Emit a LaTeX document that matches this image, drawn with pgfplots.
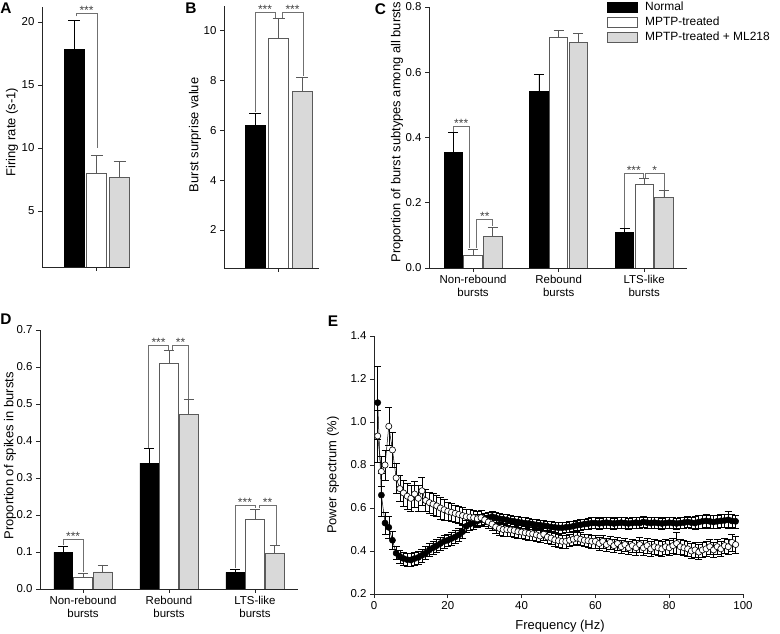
\documentclass[border=0pt]{standalone}
\usepackage{fontspec}
\setmainfont{Liberation Sans}
\usepackage{pgfplots}
\usepackage{pgfplotstable}
\pgfplotsset{compat=1.18}
\definecolor{barfill}{HTML}{D9D9D9}
\definecolor{edge}{HTML}{5A5A5A}
\definecolor{brk}{HTML}{707070}

\pgfplotstableread{
f y e
1 1.09 0.17
2 0.66 0.10
3 0.53 0.05
4 0.51 0.05
5 0.45 0.04
6 0.39 0.03
7 0.375 0.03
8 0.365 0.03
9 0.36 0.03
10 0.358 0.03
11 0.365 0.03
12 0.37 0.03
13 0.38 0.03
14 0.39 0.03
15 0.405 0.03
16 0.415 0.03
17 0.425 0.03
18 0.435 0.03
19 0.445 0.03
20 0.45 0.03
21 0.458 0.03
22 0.465 0.03
23 0.475 0.03
24 0.49 0.03
25 0.515 0.03
26 0.525 0.03
27 0.53 0.03
28 0.54 0.03
29 0.545 0.025
30 0.55 0.025
31 0.555 0.025
32 0.56 0.025
33 0.555 0.025
34 0.55 0.025
35 0.548 0.025
36 0.545 0.025
37 0.54 0.025
38 0.538 0.025
39 0.535 0.025
40 0.532 0.025
41 0.53 0.025
42 0.528 0.025
43 0.525 0.025
44 0.522 0.025
45 0.52 0.025
46 0.518 0.025
47 0.515 0.025
48 0.512 0.025
49 0.51 0.025
50 0.508 0.025
51 0.508 0.025
52 0.51 0.025
53 0.512 0.025
54 0.515 0.025
55 0.52 0.025
56 0.522 0.025
57 0.525 0.025
58 0.527 0.025
59 0.53 0.025
60 0.53 0.025
61 0.528 0.025
62 0.53 0.025
63 0.532 0.025
64 0.53 0.025
65 0.528 0.025
66 0.53 0.025
67 0.532 0.025
68 0.53 0.025
69 0.528 0.025
70 0.53 0.025
71 0.532 0.025
72 0.53 0.025
73 0.535 0.025
74 0.532 0.025
75 0.53 0.025
76 0.532 0.025
77 0.53 0.025
78 0.528 0.025
79 0.53 0.025
80 0.532 0.025
81 0.53 0.025
82 0.528 0.025
83 0.53 0.025
84 0.532 0.025
85 0.535 0.025
86 0.532 0.025
87 0.53 0.03
88 0.535 0.03
89 0.538 0.03
90 0.54 0.03
91 0.538 0.03
92 0.535 0.03
93 0.538 0.03
94 0.54 0.03
95 0.542 0.03
96 0.545 0.04
97 0.54 0.03
98 0.538 0.03
}\normaldata

\pgfplotstableread{
f y e
1 0.935 0.12
2 0.77 0.07
3 0.80 0.07
4 0.98 0.09
5 0.87 0.08
6 0.74 0.07
7 0.69 0.06
8 0.67 0.06
9 0.655 0.06
10 0.645 0.06
11 0.665 0.06
12 0.645 0.06
13 0.68 0.065
14 0.635 0.05
15 0.625 0.05
16 0.618 0.05
17 0.61 0.05
18 0.60 0.05
19 0.592 0.05
20 0.585 0.04
21 0.58 0.04
22 0.575 0.04
23 0.57 0.04
24 0.565 0.04
25 0.56 0.035
26 0.558 0.035
27 0.555 0.035
28 0.55 0.035
29 0.555 0.035
30 0.545 0.03
31 0.535 0.03
32 0.525 0.03
33 0.512 0.03
34 0.505 0.03
35 0.50 0.03
36 0.50 0.03
37 0.498 0.03
38 0.495 0.03
39 0.49 0.03
40 0.488 0.03
41 0.485 0.03
42 0.482 0.03
43 0.48 0.03
44 0.475 0.03
45 0.47 0.03
46 0.478 0.03
47 0.465 0.03
48 0.46 0.03
49 0.452 0.03
50 0.448 0.03
51 0.445 0.03
52 0.445 0.03
53 0.45 0.03
54 0.455 0.03
55 0.46 0.03
56 0.455 0.03
57 0.45 0.03
58 0.448 0.03
59 0.445 0.03
60 0.445 0.03
61 0.435 0.03
62 0.445 0.03
63 0.43 0.03
64 0.44 0.03
65 0.425 0.03
66 0.435 0.03
67 0.42 0.03
68 0.43 0.03
69 0.415 0.03
70 0.425 0.03
71 0.415 0.035
72 0.43 0.035
73 0.415 0.035
74 0.425 0.035
75 0.41 0.035
76 0.42 0.035
77 0.415 0.035
78 0.41 0.035
79 0.42 0.035
80 0.415 0.035
81 0.425 0.035
82 0.435 0.05
83 0.42 0.035
84 0.415 0.035
85 0.41 0.035
86 0.4 0.035
87 0.405 0.035
88 0.395 0.035
89 0.405 0.035
90 0.41 0.035
91 0.42 0.035
92 0.405 0.035
93 0.42 0.035
94 0.41 0.035
95 0.425 0.035
96 0.42 0.035
97 0.44 0.04
98 0.43 0.04
}\mptpdata

\pgfplotsset{
  panel/.style={
    scale only axis, axis lines=left,
    axis line style={-, line width=0.9bp, black!85},
    tick align=outside, tick pos=left, major tick length=4bp,
    every tick/.style={line width=0.8bp, black!85},
    /pgf/number format/assume math mode=true,
    tick label style={font=\fontsize{11.5}{12.5}\selectfont},
    label style={font=\fontsize{13}{15}\selectfont},
    clip mode=individual,
  },
  blackbar/.style={fill=black, draw=black, line width=0.8bp},
  whitebar/.style={fill=white, draw=edge, line width=0.8bp},
  graybar/.style={fill=barfill, draw=edge, line width=0.8bp},
  ebk/.style={error bars/.cd, y dir=plus, y explicit,
    error bar style={line width=0.8bp, black},
    error mark options={rotate=90, line width=0.8bp, black, mark size=#1}},
  egr/.style={error bars/.cd, y dir=plus, y explicit,
    error bar style={line width=0.8bp, edge},
    error mark options={rotate=90, line width=0.8bp, edge, mark size=#1}},
}
\tikzset{
  brack/.style={brk, line width=0.7bp},
  star/.style={anchor=base, inner sep=0pt, yshift=-1.2bp, text=black!75, font=\fontsize{12}{12}\selectfont},
}

\begin{document}
\begin{tikzpicture}
\path[use as bounding box] (0,0) rectangle (780bp,634bp);

% ---------- A ----------
\begin{axis}[panel, at={(42bp,367bp)}, anchor=south west,
  width=88bp, height=260bp,
  xmin=-1.41, xmax=2.46, ymin=0.556, ymax=21.19,
  xtick={1}, xticklabels={}, ytick={5,10,15,20},
  ylabel={Firing rate (s-1)},
  ylabel style={at={(axis description cs:-0.341,0.519)}, anchor=center}]
\addplot[ybar, bar width=0.88, bar shift=0pt, blackbar, ebk=6bp] coordinates {(0,17.85) +- (0,2.25)};
\addplot[ybar, bar width=0.88, bar shift=0pt, whitebar, egr=6bp] coordinates {(1,8.0) +- (0,1.4)};
\addplot[ybar, bar width=0.88, bar shift=0pt, graybar, egr=6bp] coordinates {(2,7.65) +- (0,1.25)};
\draw[brack] (axis cs:0.09,20.45) -- (axis cs:0.09,20.7) -- (axis cs:1.01,20.7) -- (axis cs:1.01,10.0);
\node[star] at (axis cs:0.55,20.7) {***};
\end{axis}

% ---------- B ----------
\begin{axis}[panel, at={(224bp,366bp)}, anchor=south west,
  width=95bp, height=262bp,
  xmin=-1.32, xmax=2.72, ymin=0.47, ymax=11.0,
  xtick={1}, xticklabels={}, ytick={2,4,6,8,10},
  ylabel={Burst surprise value},
  ylabel style={at={(axis description cs:-0.305,0.508)}, anchor=center}]
\addplot[ybar, bar width=0.85, bar shift=0pt, blackbar, ebk=6bp] coordinates {(0,6.2) +- (0,0.5)};
\addplot[ybar, bar width=0.85, bar shift=0pt, whitebar, egr=6bp] coordinates {(1,9.7) +- (0,0.82)};
\addplot[ybar, bar width=0.85, bar shift=0pt, graybar, egr=6bp] coordinates {(2,7.55) +- (0,0.6)};
\draw[brack] (axis cs:0.0,6.75) -- (axis cs:0.0,10.76) -- (axis cs:0.85,10.76) -- (axis cs:0.85,10.5);
\node[star] at (axis cs:0.425,10.76) {***};
\draw[brack] (axis cs:1.15,10.5) -- (axis cs:1.15,10.76) -- (axis cs:2.04,10.76) -- (axis cs:2.04,8.2);
\node[star] at (axis cs:1.595,10.76) {***};
\end{axis}

% ---------- C ----------
\begin{axis}[panel, at={(429bp,366bp)}, anchor=south west,
  width=258bp, height=261bp,
  xmin=-0.515, xmax=2.5, ymin=0, ymax=0.8,
  xtick={0,1,2},
  xticklabels={{Non-rebound\\bursts},{Rebound\\bursts},{LTS-like\\bursts}},
  xticklabel style={align=center},
  ytick={0,0.2,0.4,0.6,0.8},
  yticklabel style={/pgf/number format/.cd, fixed, fixed zerofill, precision=1},
  ylabel={Proportion of burst subtypes among all bursts},
  ylabel style={at={(axis description cs:-0.124,0.52)}, anchor=center},
  legend style={at={(axis description cs:0.69,1.029)}, anchor=north west,
    draw=none, fill=none, inner sep=0pt, row sep=0pt,
    font=\fontsize{12}{14}\selectfont,
    nodes={inner sep=1.5bp, text height=9.5bp, text depth=2.5bp}},
  legend cell align=left,
  legend image code/.code={\draw[#1] (0bp,-5bp) rectangle (30bp,5bp); \path[draw=none, fill=none] (0bp,0bp) -- (36bp,0bp);}]
\addlegendimage{fill=black, draw=black, line width=0.8bp}
\addlegendentry{Normal}
\addlegendimage{fill=white, draw=edge, line width=0.8bp}
\addlegendentry{MPTP-treated}
\addlegendimage{fill=barfill, draw=edge, line width=0.8bp}
\addlegendentry{MPTP-treated + ML218}
\addplot[forget plot, ybar, bar width=0.215, bar shift=0pt, blackbar, ebk=5bp] coordinates {(-0.23,0.354) +- (0,0.062) (0.77,0.542) +- (0,0.05) (1.77,0.108) +- (0,0.012)};
\addplot[forget plot, ybar, bar width=0.215, bar shift=0pt, whitebar, egr=5bp] coordinates {(0,0.038) +- (0,0.02) (1,0.708) +- (0,0.02) (2,0.256) +- (0,0.019)};
\addplot[forget plot, ybar, bar width=0.215, bar shift=0pt, graybar, egr=5bp] coordinates {(0.23,0.096) +- (0,0.029) (1.23,0.692) +- (0,0.028) (2.23,0.216) +- (0,0.022)};
\draw[brack] (axis cs:-0.234,0.418) -- (axis cs:-0.234,0.433) -- (axis cs:-0.043,0.433) -- (axis cs:-0.043,0.062);
\node[star] at (axis cs:-0.139,0.433) {***};
\draw[brack] (axis cs:0.043,0.062) -- (axis cs:0.043,0.149) -- (axis cs:0.23,0.149) -- (axis cs:0.23,0.128);
\node[star] at (axis cs:0.137,0.149) {**};
\draw[brack] (axis cs:1.766,0.124) -- (axis cs:1.766,0.29) -- (axis cs:1.99,0.29) -- (axis cs:1.99,0.277);
\node[star] at (axis cs:1.878,0.29) {***};
\draw[brack] (axis cs:2.01,0.277) -- (axis cs:2.01,0.29) -- (axis cs:2.234,0.29) -- (axis cs:2.234,0.24);
\node[star] at (axis cs:2.122,0.29) {*};
\end{axis}

% ---------- D ----------
\begin{axis}[panel, at={(40bp,45bp)}, anchor=south west,
  width=258bp, height=259bp,
  xmin=-0.5, xmax=2.5, ymin=0, ymax=0.7,
  xtick={0,1,2},
  xticklabels={{Non-rebound\\bursts},{Rebound\\bursts},{LTS-like\\bursts}},
  xticklabel style={align=center},
  ytick={0,0.1,0.2,0.3,0.4,0.5,0.6,0.7},
  yticklabel style={/pgf/number format/.cd, fixed, fixed zerofill, precision=1},
  ylabel={Proportion of spikes in bursts},
  ylabel style={at={(axis description cs:-0.116,0.514)}, anchor=center}]
\addplot[ybar, bar width=0.215, bar shift=0pt, blackbar, ebk=5bp] coordinates {(-0.23,0.099) +- (0,0.017) (0.77,0.340) +- (0,0.039) (1.77,0.045) +- (0,0.009)};
\addplot[ybar, bar width=0.215, bar shift=0pt, whitebar, egr=5bp] coordinates {(0,0.030) +- (0,0.013) (1,0.611) +- (0,0.033) (2,0.189) +- (0,0.027)};
\addplot[ybar, bar width=0.215, bar shift=0pt, graybar, egr=5bp] coordinates {(0.23,0.046) +- (0,0.019) (1.23,0.472) +- (0,0.040) (2.23,0.097) +- (0,0.021)};
\draw[brack] (axis cs:-0.229,0.118) -- (axis cs:-0.229,0.133) -- (axis cs:0.0,0.133) -- (axis cs:0.0,0.045);
\node[star] at (axis cs:-0.115,0.133) {***};
\draw[brack] (axis cs:0.762,0.38) -- (axis cs:0.762,0.659) -- (axis cs:0.994,0.659) -- (axis cs:0.994,0.646);
\node[star] at (axis cs:0.878,0.659) {***};
\draw[brack] (axis cs:1.04,0.646) -- (axis cs:1.04,0.659) -- (axis cs:1.23,0.659) -- (axis cs:1.23,0.514);
\node[star] at (axis cs:1.135,0.659) {**};
\draw[brack] (axis cs:1.767,0.056) -- (axis cs:1.767,0.225) -- (axis cs:2.0,0.225) -- (axis cs:2.0,0.218);
\node[star] at (axis cs:1.883,0.225) {***};
\draw[brack] (axis cs:2.05,0.218) -- (axis cs:2.05,0.225) -- (axis cs:2.244,0.225) -- (axis cs:2.244,0.12);
\node[star] at (axis cs:2.147,0.225) {**};
\end{axis}

% ---------- E ----------
\begin{axis}[panel, at={(374bp,40bp)}, anchor=south west,
  width=369bp, height=258bp,
  xmin=0, xmax=100, ymin=0.2, ymax=1.4,
  xtick={0,20,40,60,80,100},
  ytick={0.2,0.4,0.6,0.8,1.0,1.2,1.4},
  yticklabel style={/pgf/number format/.cd, fixed, fixed zerofill, precision=1},
  xlabel={Frequency (Hz)}, ylabel={Power spectrum (\%)},
  xlabel style={at={(axis description cs:0.504,-0.125)}, anchor=center},
  ylabel style={at={(axis description cs:-0.111,0.46)}, anchor=center}]
\addplot[black, line width=0.5bp, mark=*, mark size=3.1bp,
  mark options={fill=black, draw=black, line width=0.5bp},
  error bars/.cd, y dir=both, y explicit,
  error bar style={line width=0.5bp, black},
  error mark options={rotate=90, line width=0.5bp, black, mark size=3.5bp}]
  table[x=f, y=y, y error=e] {\normaldata};
\addplot[black, line width=0.5bp, mark=*, mark size=3.1bp,
  mark options={fill=white, draw=black, line width=0.6bp},
  error bars/.cd, y dir=both, y explicit,
  error bar style={line width=0.5bp, black},
  error mark options={rotate=90, line width=0.5bp, black, mark size=3.5bp}]
  table[x=f, y=y, y error=e] {\mptpdata};
\end{axis}

% panel letters
\node[font=\fontsize{15.5}{16}\bfseries] at (6bp,626bp) {A};
\node[font=\fontsize{15.5}{16}\bfseries] at (191bp,626bp) {B};
\node[font=\fontsize{15.5}{16}\bfseries] at (380.5bp,625bp) {C};
\node[font=\fontsize{15.5}{16}\bfseries] at (6bp,315bp) {D};
\node[font=\fontsize{15.5}{16}\bfseries] at (333bp,313bp) {E};
\end{tikzpicture}
\end{document}
